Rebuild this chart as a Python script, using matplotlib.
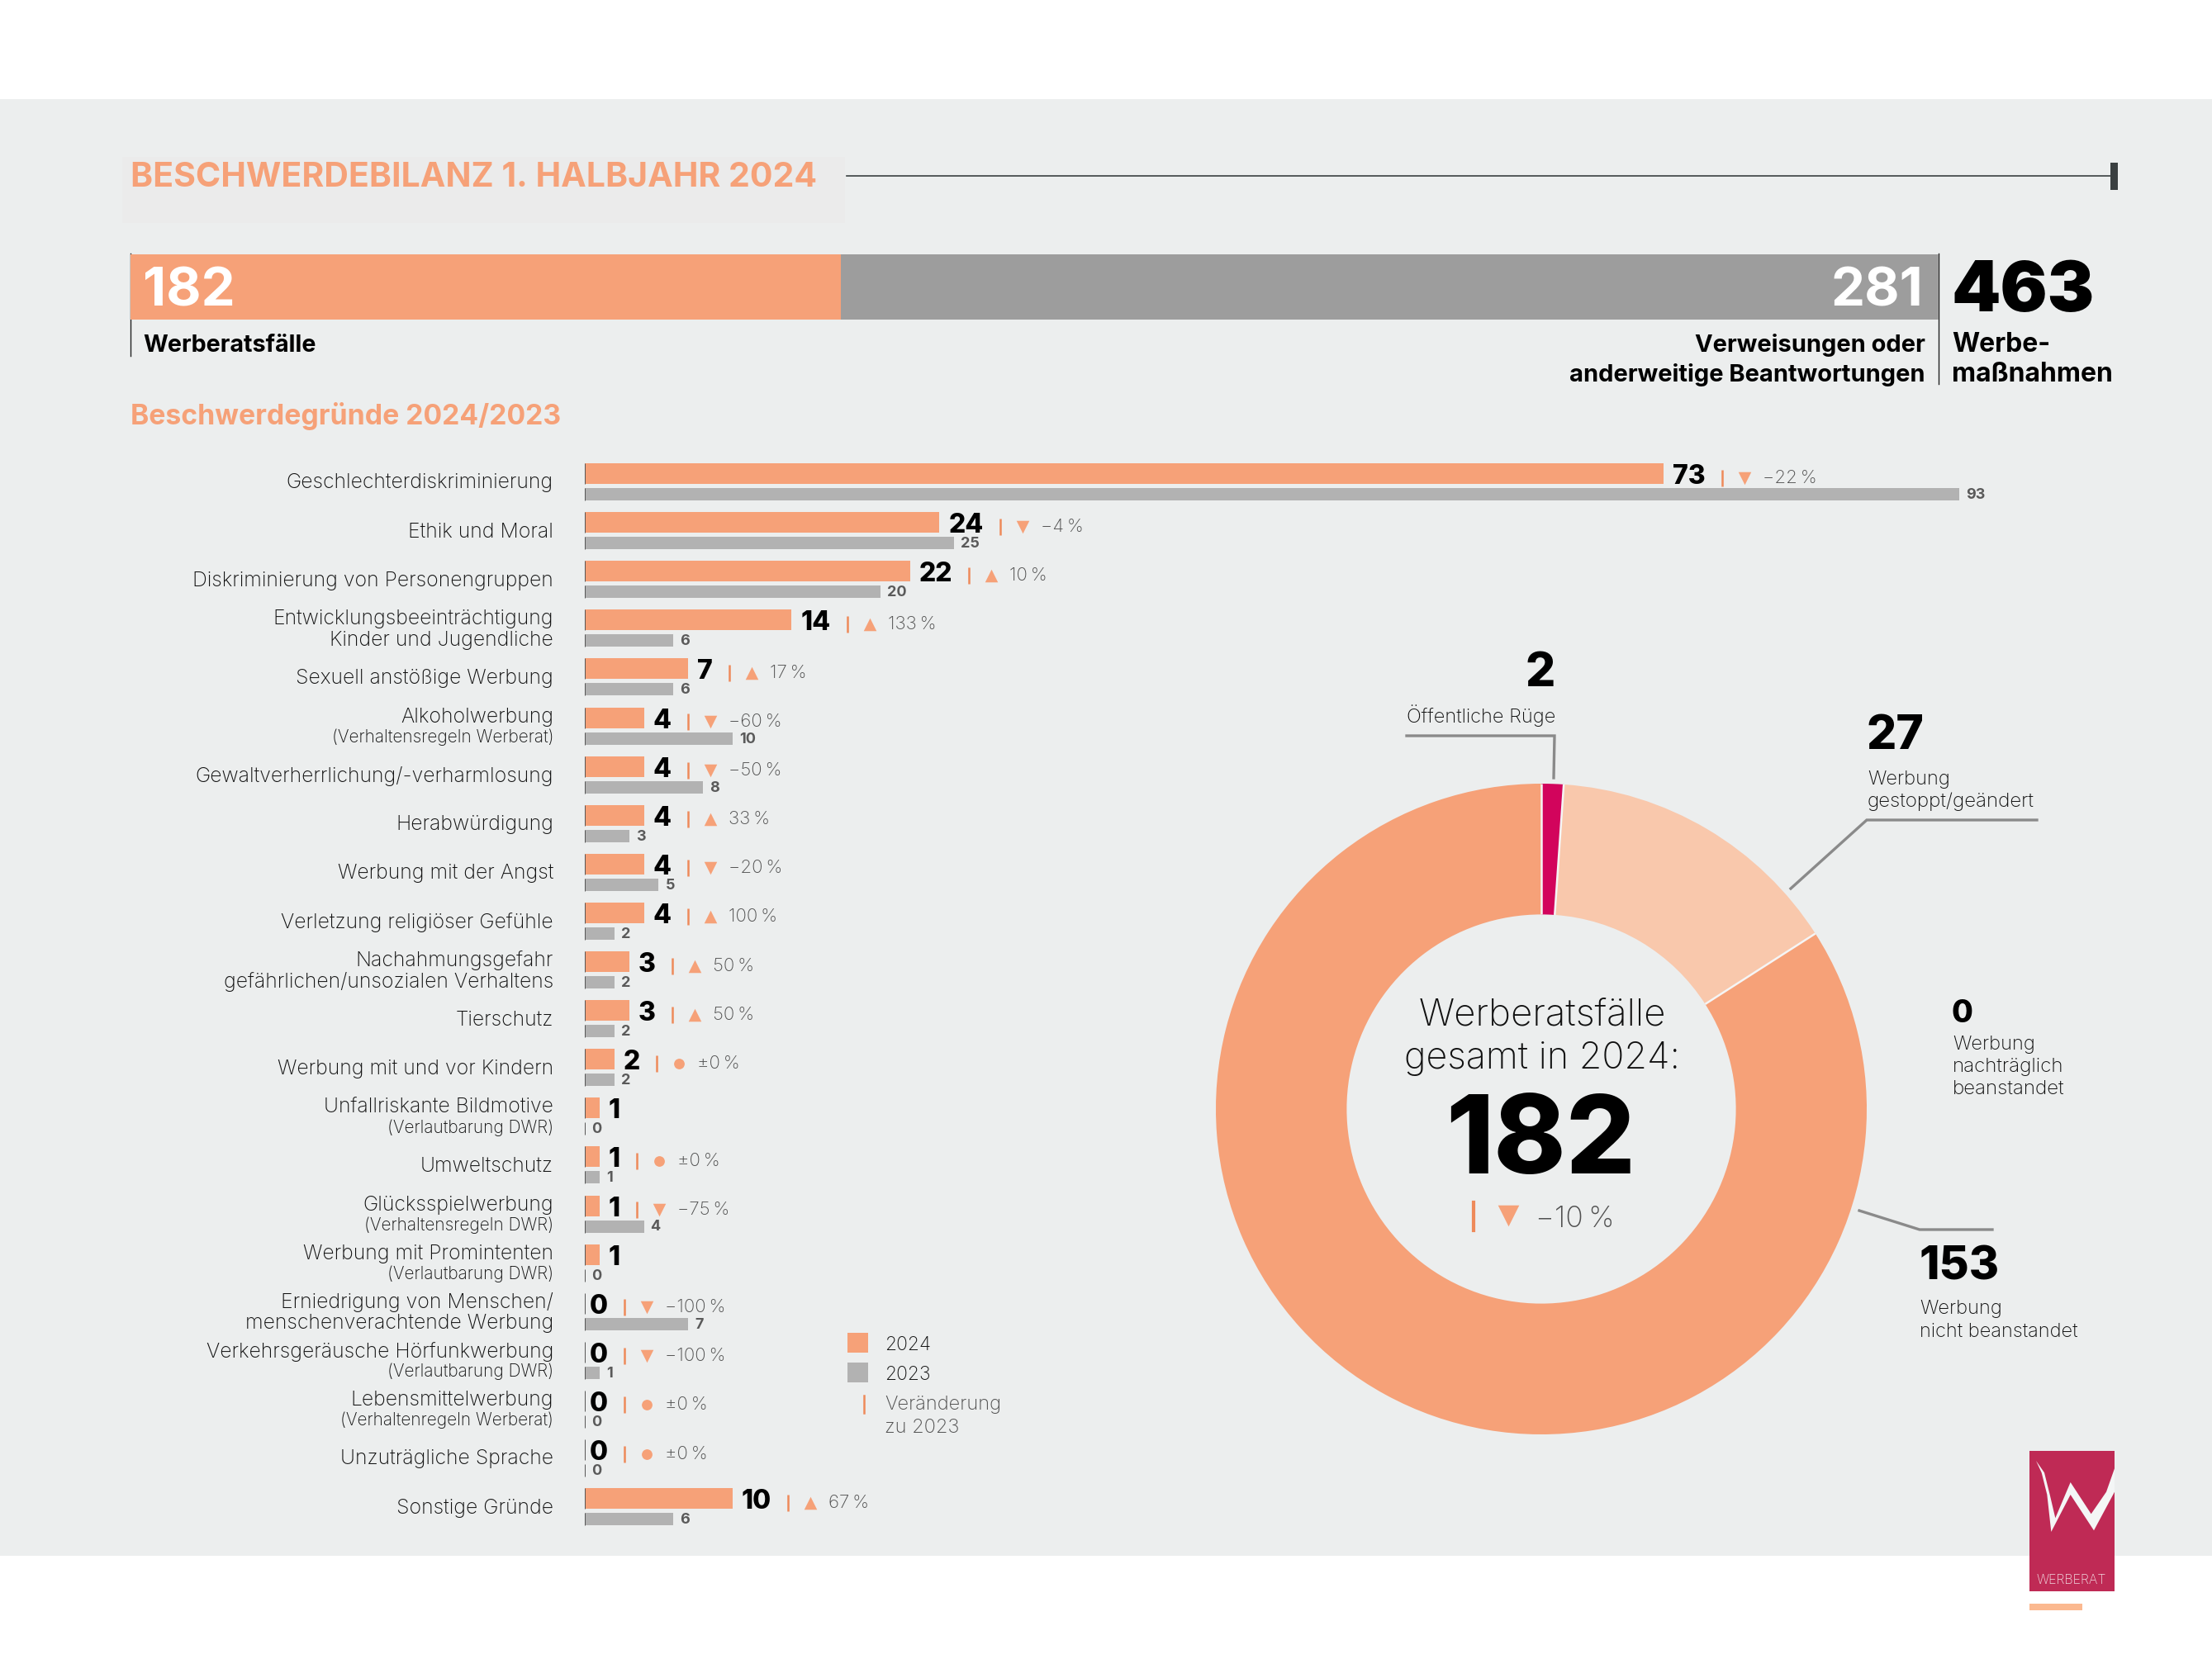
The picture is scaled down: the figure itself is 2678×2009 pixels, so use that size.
"""
Beschwerdebilanz 1. Halbjahr 2024 - Werberat infographic.
"""
import math
import matplotlib
matplotlib.use("Agg")
import matplotlib.pyplot as plt
from matplotlib.patches import Rectangle, Polygon

plt.rcParams["font.family"] = ["Inter", "Lato", "DejaVu Sans"]

W, H = 2678, 2009
ORANGE = "#F6A178"
GREY_TOP = "#9D9D9D"
GREY_BAR = "#B2B2B2"
BAND = "#ECEEEE"
LEAD = "#8A8A8A"
TICK = "#EE8A5A"
TXT = "#111111"
SOFT = "#505050"

# ---- data ----
total_values = [182, 281]
total_all = 463

categories = [
    ("Geschlechterdiskriminierung", None),
    ("Ethik und Moral", None),
    ("Diskriminierung von Personengruppen", None),
    ("Entwicklungsbeeinträchtigung", "Kinder und Jugendliche"),
    ("Sexuell anstößige Werbung", None),
    ("Alkoholwerbung", "(Verhaltensregeln Werberat)"),
    ("Gewaltverherrlichung/-verharmlosung", None),
    ("Herabwürdigung", None),
    ("Werbung mit der Angst", None),
    ("Verletzung religiöser Gefühle", None),
    ("Nachahmungsgefahr", "gefährlichen/unsozialen Verhaltens"),
    ("Tierschutz", None),
    ("Werbung mit und vor Kindern", None),
    ("Unfallriskante Bildmotive", "(Verlautbarung DWR)"),
    ("Umweltschutz", None),
    ("Glücksspielwerbung", "(Verhaltensregeln DWR)"),
    ("Werbung mit Promintenten", "(Verlautbarung DWR)"),
    ("Erniedrigung von Menschen/", "menschenverachtende Werbung"),
    ("Verkehrsgeräusche Hörfunkwerbung", "(Verlautbarung DWR)"),
    ("Lebensmittelwerbung", "(Verhaltenregeln Werberat)"),
    ("Unzuträgliche Sprache", None),
    ("Sonstige Gründe", None),
]
# second lines that are set at full size
full_size_second = {"Kinder und Jugendliche", "gefährlichen/unsozialen Verhaltens",
                    "menschenverachtende Werbung"}
values_2024 = [73, 24, 22, 14, 7, 4, 4, 4, 4, 4, 3, 3, 2, 1, 1, 1, 1, 0, 0, 0, 0, 10]
values_2023 = [93, 25, 20, 6, 6, 10, 8, 3, 5, 2, 2, 2, 2, 0, 1, 4, 0, 7, 1, 0, 0, 6]
changes = [-22, -4, 10, 133, 17, -60, -50, 33, -20, 100, 50, 50, 0, None, 0, -75, None,
           -100, -100, 0, 0, 67]

donut_values = [2, 27, 0, 153]
donut_colors = ["#D2045C", "#F9C8AC", "#F6A178", ORANGE]

fig = plt.figure(figsize=(W / 100, H / 100), dpi=100, facecolor="white")


def px_axes(x0, y0, x1, y1, **kw):
    """axes from pixel box, y measured from the top"""
    return fig.add_axes([x0 / W, 1 - y1 / H, (x1 - x0) / W, (y1 - y0) / H], **kw)


# page layer in pixel coords
pg = px_axes(0, 0, W, H, zorder=0)
pg.set_xlim(0, W)
pg.set_ylim(H, 0)
pg.axis("off")
pg.add_patch(Rectangle((0, 120), W, 1764, color=BAND, lw=0))
pg.add_patch(Rectangle((148, 190), 875, 80, color="#EBEBEB", lw=0))


def txt(x, y, s, size, weight="normal", color=TXT, ha="left", **kw):
    return pg.text(x, y, s, fontsize=size, fontweight=weight, color=color, ha=ha,
                   va="center", **kw)


# ---- header ----
txt(158, 215, "BESCHWERDEBILANZ 1. HALBJAHR 2024", 29.5, "bold", ORANGE)
pg.plot([1025, 2556], [213, 213], color="#3A3F40", lw=1.2)
pg.add_patch(Rectangle((2555, 197), 9, 33, color="#3A3F40", lw=0))
txt(158, 504, "Beschwerdegründe 2024/2023", 24.3, "bold", ORANGE)

# ---- totals bar ----
ax_top = px_axes(158, 308, 2347, 387, zorder=1)
ax_top.barh([0], [total_values[0]], left=0, height=1, color=ORANGE, edgecolor="none")
ax_top.barh([0], [total_values[1]], left=total_values[0], height=1, color=GREY_TOP, edgecolor="none")
ax_top.set_xlim(0, sum(total_values))
ax_top.set_ylim(-0.5, 0.5)
ax_top.axis("off")

pg.plot([158, 158], [307, 431], color="#222222", lw=1.0)
pg.plot([2347, 2347], [307, 465], color="#222222", lw=1.0)
ax_top.text(0.0068, 0.43, str(total_values[0]), transform=ax_top.transAxes, color="white",
            fontsize=47, fontweight="bold", va="center", ha="left")
ax_top.text(0.9915, 0.43, str(total_values[1]), transform=ax_top.transAxes, color="white",
            fontsize=47, fontweight="bold", va="center", ha="right")
txt(2362, 354, str(total_all), 61, "black", "black")
txt(173, 419, "Werberatsfälle", 20.7, "bold", "black")
txt(2331, 418, "Verweisungen oder", 20.9, "bold", "black", ha="right")
txt(2331, 454, "anderweitige Beantwortungen", 20.9, "bold", "black", ha="right")
txt(2363, 418, "Werbe-", 23, "bold", "black")
txt(2363, 453, "maßnahmen", 23, "bold", "black")

# ---- category bars ----
PX_UNIT = 17.89
ROW0 = 583.5
PITCH = 59.1
BAR_X0 = 708
ax = px_axes(BAR_X0, 540, 2420, 1870, zorder=1)
ax.set_xlim(0, (2420 - BAR_X0) / PX_UNIT)
ax.set_ylim((1870 - ROW0) / PITCH, (540 - ROW0) / PITCH)
ax.axis("off")

y_pos = list(range(len(categories)))
off_new = -10 / PITCH
off_old = 15 / PITCH
h_new = 25 / PITCH
h_old = 15 / PITCH
ys_new = [y + off_new for y in y_pos]
ys_old = [y + off_old for y in y_pos]
ax.barh(ys_new, values_2024, height=h_new, color=ORANGE, edgecolor="none")
ax.barh(ys_old, values_2023, height=h_old, color=GREY_BAR, edgecolor="none")
ax.vlines([0] * len(ys_new), [y - h_new / 2 for y in ys_new], [y + h_new / 2 for y in ys_new],
          color="#555555", lw=0.7)
ax.vlines([0] * len(ys_old), [y - h_old / 2 for y in ys_old], [y + h_old / 2 for y in ys_old],
          color="#555555", lw=0.7)

fig.canvas.draw()
rend = fig.canvas.get_renderer()

for i, (first, second) in enumerate(categories):
    yc = ROW0 + i * PITCH + 1.5
    if second is None:
        txt(670, yc, first, 17.8, "light", ha="right")
    else:
        gap = 13 if second in full_size_second else 12
        txt(670, yc - gap, first, 17.8, "light", ha="right")
        if second in full_size_second:
            txt(670, yc + gap, second, 17.8, "light", ha="right")
        else:
            txt(670, yc + gap, second, 15, "light", ha="right")

    v_new, v_old = values_2024[i], values_2023[i]
    # the zero sits closer to the baseline than the other figures
    pad = 6 if v_new == 0 else 11
    t = ax.text(v_new + pad / PX_UNIT, i + off_new + 4 / PITCH, str(v_new), fontsize=23,
                fontweight="heavy", color="black", va="center", ha="left")
    ax.text(v_old + 8 / PX_UNIT, i + off_old + 1 / PITCH, str(v_old), fontsize=13, fontweight="bold",
            color="#5A5A5A", va="center", ha="left")

    ch = changes[i]
    if ch is None:
        continue
    right = t.get_window_extent(rend).x1
    right = (right - BAR_X0) / PX_UNIT
    yy = i - 5 / PITCH
    ax.vlines(right + 20 / PX_UNIT, yy - 10 / PITCH, yy + 10 / PITCH, color=TICK, lw=1.8)
    if ch == 0:
        marker, size, lab = "o", 85, "±0\u2009%"
    elif ch < 0:
        marker, size, lab = "v", 125, f"\u2212{abs(ch)}\u2009%"
    else:
        marker, size, lab = "^", 125, f"{ch}\u2009%"
    ax.scatter([right + 47 / PX_UNIT], [yy], marker=marker, s=size, color=ORANGE, linewidths=0)
    ax.text(right + 69 / PX_UNIT, yy, lab, fontsize=16, fontweight="light", color=SOFT,
            va="center", ha="left")

# ---- legend ----
pg.add_patch(Rectangle((1026, 1614), 25, 24, color=ORANGE, lw=0))
pg.add_patch(Rectangle((1026, 1650), 25, 24, color=GREY_BAR, lw=0))
txt(1071, 1629, "2024", 16.5, "light")
txt(1071, 1665, "2023", 16.5, "light")
pg.plot([1045.5, 1045.5], [1690, 1711], color=TICK, lw=1.8)
txt(1071, 1701, "Veränderung", 17, "light", SOFT)
txt(1071, 1729, "zu 2023", 17, "light", SOFT)

# ---- donut ----
CX, CY, R = 1866, 1343, 394
HOLE = 0.598
ax_pie = px_axes(CX - R, CY - R, CX + R, CY + R, zorder=1)
ax_pie.pie(donut_values, colors=donut_colors, startangle=90, counterclock=False, radius=1,
           wedgeprops=dict(width=1 - HOLE, edgecolor="none"))
ax_pie.set_xlim(-1, 1)
ax_pie.set_ylim(-1, 1)
ax_pie.set_aspect("equal")
# thin light separators between the slices, none around the ring
run = 0
for v in donut_values:
    if v == 0:
        continue
    ang = 2 * math.pi * run / sum(donut_values)
    ax_pie.plot([HOLE * math.sin(ang), math.sin(ang)], [HOLE * math.cos(ang), math.cos(ang)],
                color="#F5F5F5", lw=1.8, solid_capstyle="butt")
    run += v

txt(1867, 1229, "Werberatsfälle", 32.8, "light", ha="center")
txt(1867, 1282, "gesamt in 2024:", 32.3, "light", ha="center")
txt(1865, 1386, "182", 95, "heavy", "black", ha="center")
pg.plot([1784, 1784], [1456, 1490], color=TICK, lw=3)
pg.scatter([1826], [1472], marker="v", s=340, color=ORANGE, linewidths=0)
txt(1859, 1476, "\u221210\u2009%", 25.5, "light", SOFT)

# callouts
txt(1865, 816, "2", 41, "heavy", "black", ha="center")
txt(1703, 867, "Öffentliche Rüge", 17, "light")
pg.plot([1703, 1882, 1881], [891, 891, 942], color=LEAD, lw=2.4, solid_joinstyle="miter")

txt(2260, 892, "27", 41, "heavy", "black")
txt(2261, 944, "Werbung", 17, "light")
txt(2261, 971, "gestoppt/geändert", 17.4, "light")
pg.plot([2466, 2260, 2168], [993, 993, 1076], color=LEAD, lw=2.4, solid_joinstyle="miter")

txt(2363, 1228, "0", 27, "heavy", "black")
txt(2364, 1265, "Werbung", 17, "light")
txt(2364, 1292, "nachträglich", 17.4, "light")
txt(2364, 1319, "beanstandet", 17.4, "light")

pg.plot([2251, 2324, 2412], [1466, 1489, 1489], color=LEAD, lw=2.4, solid_joinstyle="miter")
txt(2323, 1535, "153", 40, "heavy", "black")
txt(2324, 1585, "Werbung", 17, "light")
txt(2324, 1613, "nicht beanstandet", 17, "light")

# ---- logo ----
top = px_axes(0, 0, W, H, zorder=3)
top.set_xlim(0, W)
top.set_ylim(H, 0)
top.axis("off")
top.add_patch(Rectangle((2457, 1757), 103, 170, color="#BF2A55", lw=0))
w_shape = [(345, 207), (375, 250), (395, 330), (415, 415), (470, 285), (545, 400), (600, 320),
           (630, 235), (630, 320), (555, 460), (470, 330), (400, 465), (385, 330), (365, 250)]
top.add_patch(Polygon([(2350 + a / 3, 1700 + b / 3) for a, b in w_shape], color="#F4F6F6", lw=0))
top.text(2508, 1913, "WERBERAT", fontsize=11.5, fontweight="light", color="#F0D8DE",
         ha="center", va="center")
top.add_patch(Rectangle((2457, 1942), 64, 8, color="#FBB990", lw=0))

fig.savefig("out.png", dpi=100, facecolor="white")
